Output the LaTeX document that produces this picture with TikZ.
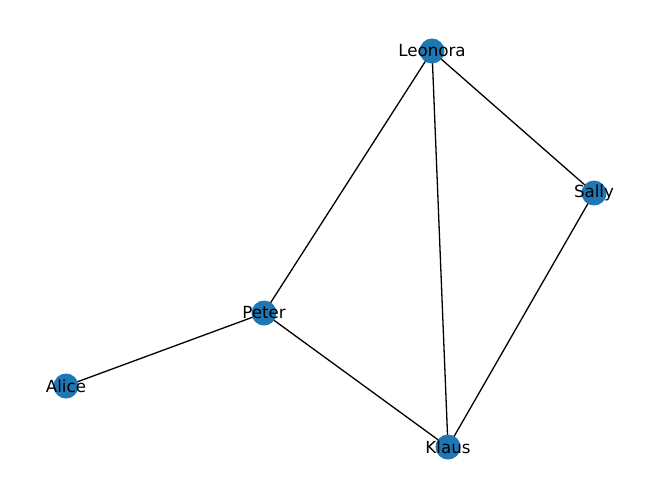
\documentclass[tikz,border=0pt]{standalone}
\usepackage{fontspec}
\setmainfont{DejaVu Sans}
\definecolor{nxblue}{HTML}{1F77B4}
\begin{document}
\begin{tikzpicture}[x=1pt,y=-1pt,
  vertex/.style={circle,fill=nxblue,minimum size=25pt,inner sep=0pt},
  lbl/.style={font=\fontsize{16.7}{18}\selectfont,inner sep=0pt,text=black},
  edge/.style={draw=black,line width=1.3pt}]
\useasboundingbox (0,0) rectangle (660,499);
\coordinate (Leonora) at (432,51);
\coordinate (Sally) at (594,193);
\coordinate (Peter) at (264,313);
\coordinate (Alice) at (66,386);
\coordinate (Klaus) at (448,447);
\draw[edge] (Leonora) -- (Sally);
\draw[edge] (Leonora) -- (Peter);
\draw[edge] (Leonora) -- (Klaus);
\draw[edge] (Sally) -- (Klaus);
\draw[edge] (Peter) -- (Alice);
\draw[edge] (Peter) -- (Klaus);
\foreach \n in {Leonora,Sally,Peter,Alice,Klaus}{
  \node[vertex] (v\n) at (\n) {};
}
\foreach \n in {Leonora,Sally,Peter,Alice,Klaus}{
  \node[lbl] (t\n) at (\n) {\n};
}
\end{tikzpicture}
\end{document}
